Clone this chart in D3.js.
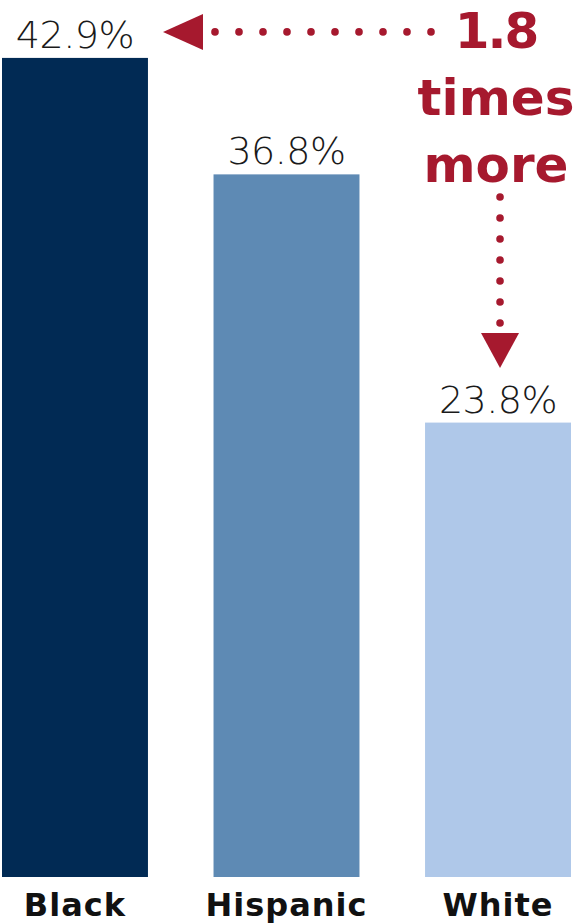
<!DOCTYPE html>
<html>
<head>
<meta charset="utf-8">
<script src="https://cdn.jsdelivr.net/npm/d3@7"></script>
<style>
  html, body { margin: 0; padding: 0; background: #fff; }
  svg { display: block; }
</style>
</head>
<body>
<svg id="chart"></svg>
<script>
// Chart data
const categories = ['Black', 'Hispanic', 'White'];
const values = [42.9, 36.8, 23.8];
const valueLabels = ['42.9%', '36.8%', '23.8%'];
const barColors = ['#012a54', '#5e8ab4', '#afc8e9'];
const noteLines = ['1.8', 'times', 'more'];

const width = 577;
const height = 924;
const red = '#a6192e';

const svg = d3.select('#chart')
    .attr('width', width)
    .attr('height', height);

// Scales
const x = d3.scaleBand()
    .domain(categories)
    .range([2, 571])
    .paddingInner(0.31)
    .paddingOuter(0);

const y = d3.scaleLinear()
    .domain([0, 43])
    .range([877, 56]);

// Bars
svg.selectAll('.bar')
    .data(values)
    .enter()
    .append('rect')
    .attr('class', 'bar')
    .attr('x', (d, i) => x(categories[i]))
    .attr('y', d => y(d))
    .attr('width', x.bandwidth())
    .attr('height', d => y(0) - y(d))
    .attr('fill', (d, i) => barColors[i]);

// Value labels above bars
svg.selectAll('.value')
    .data(values)
    .enter()
    .append('text')
    .attr('class', 'value')
    .attr('x', (d, i) => x(categories[i]) + x.bandwidth() / 2)
    .attr('y', d => y(d) - 10)
    .attr('text-anchor', 'middle')
    .style('font-family', '"DejaVu Sans", sans-serif')
    .style('font-size', '38px')
    .style('font-weight', '300')
    .style('letter-spacing', '-0.5px')
    .style('fill', '#1a1a1a')
    .text((d, i) => valueLabels[i]);

// Category labels under bars
svg.selectAll('.cat')
    .data(categories)
    .enter()
    .append('text')
    .attr('class', 'cat')
    .attr('x', d => x(d) + x.bandwidth() / 2)
    .attr('y', y(0) + 39)
    .attr('text-anchor', 'middle')
    .style('font-family', '"DejaVu Sans", sans-serif')
    .style('font-size', '32px')
    .style('font-weight', 'bold')
    .style('letter-spacing', '1px')
    .style('fill', '#111')
    .text(d => d);

// Annotation: "1.8 times more"
const noteX = x('White') + x.bandwidth() / 2 - 2;
svg.selectAll('.note')
    .data(noteLines)
    .enter()
    .append('text')
    .attr('class', 'note')
    .attr('x', noteX)
    .attr('y', (d, i) => 48 + i * 67)
    .attr('text-anchor', 'middle')
    .style('font-family', '"DejaVu Sans", sans-serif')
    .style('font-size', '50px')
    .style('font-weight', 'bold')
    .style('letter-spacing', (d, i) => i === 0 ? '-2px' : '0px')
    .style('fill', red)
    .text(d => d);

// Horizontal dotted arrow pointing to the Black bar label
const arrowY = y(values[0]) - 26;
const hDots = d3.range(10).map(i => 215 + i * 24);
svg.selectAll('.hdot')
    .data(hDots)
    .enter()
    .append('circle')
    .attr('cx', d => d)
    .attr('cy', arrowY)
    .attr('r', 3.8)
    .attr('fill', red);

svg.append('path')
    .attr('d', `M163,${arrowY} L203,${arrowY - 18} L203,${arrowY + 18} Z`)
    .attr('fill', red);

// Vertical dotted arrow pointing down to the White bar label
const vx = x('White') + x.bandwidth() / 2 + 2;
const vDots = d3.range(7).map(i => 197 + i * 21);
svg.selectAll('.vdot')
    .data(vDots)
    .enter()
    .append('circle')
    .attr('cx', vx)
    .attr('cy', d => d)
    .attr('r', 3.8)
    .attr('fill', red);

svg.append('path')
    .attr('d', `M${vx - 19},333 L${vx + 19},333 L${vx},368 Z`)
    .attr('fill', red);
</script>
</body>
</html>
